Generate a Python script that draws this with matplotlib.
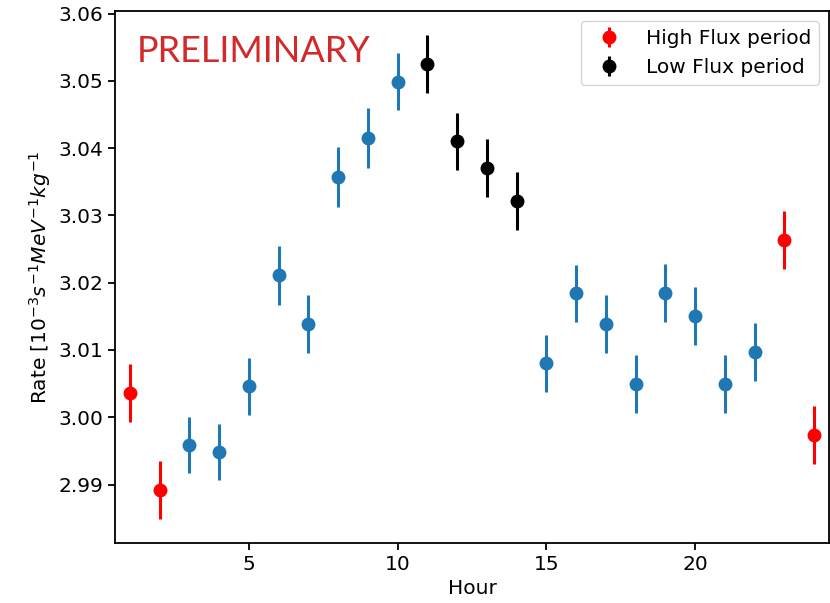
import numpy as np
import matplotlib
matplotlib.use("Agg")
import matplotlib.pyplot as plt

# hourly rate, 10^-3 s^-1 MeV^-1 kg^-1
hours_mid = [3, 4, 5, 6, 7, 8, 9, 10, 15, 16, 17, 18, 19, 20, 21, 22]
rate_mid = [2.9959, 2.9948, 3.0046, 3.0211, 3.0139, 3.0357, 3.0415, 3.0499,
            3.0080, 3.0184, 3.0139, 3.0050, 3.0185, 3.0150, 3.0050, 3.0097]
err_mid = [0.0042, 0.0042, 0.0042, 0.0044, 0.0043, 0.0045, 0.0044, 0.0043,
           0.0043, 0.0043, 0.0043, 0.0043, 0.0043, 0.0043, 0.0043, 0.0043]

hours_high = [1, 2, 23, 24]
rate_high = [3.0036, 2.9892, 3.0263, 2.9974]
err_high = [0.0043, 0.0043, 0.0043, 0.0043]

hours_low = [11, 12, 13, 14]
rate_low = [3.0525, 3.0410, 3.0371, 3.0321]
err_low = [0.0043, 0.0043, 0.0043, 0.0043]

plt.rcParams['font.size'] = 14.5

fig = plt.figure(figsize=(8.3, 6.03), dpi=100)
ax = fig.add_axes([0.1386, 0.0995, 0.8602, 0.8823])

ax.errorbar(hours_mid, rate_mid, yerr=err_mid, fmt='o', color='tab:blue',
            ms=9, elinewidth=2.2)
ax.errorbar(hours_high, rate_high, yerr=err_high, fmt='o', color='red',
            ms=9, elinewidth=2.2, label='High Flux period')
ax.errorbar(hours_low, rate_low, yerr=err_low, fmt='o', color='black',
            ms=9, elinewidth=2.2, label='Low Flux period')

ax.set_xlim(0.5, 24.5)
ax.set_xticks([5, 10, 15, 20])
ax.set_yticks([2.99, 3.00, 3.01, 3.02, 3.03, 3.04, 3.05, 3.06])
ax.set_xlabel('Hour')
ax.set_ylabel('Rate [$10^{-3}s^{-1}MeV^{-1}kg^{-1}$')
for s in ax.spines.values():
    s.set_linewidth(1.3)
ax.tick_params(width=1.3, length=5)

ax.text(0.03, 0.955, 'PRELIMINARY', transform=ax.transAxes, color='#d22a2a',
        fontsize=26, family=['Lato', 'DejaVu Sans'],
        va='top', ha='left')

ax.legend(loc='upper right', fontsize=14.5)

fig.savefig('out.png', dpi=100)
